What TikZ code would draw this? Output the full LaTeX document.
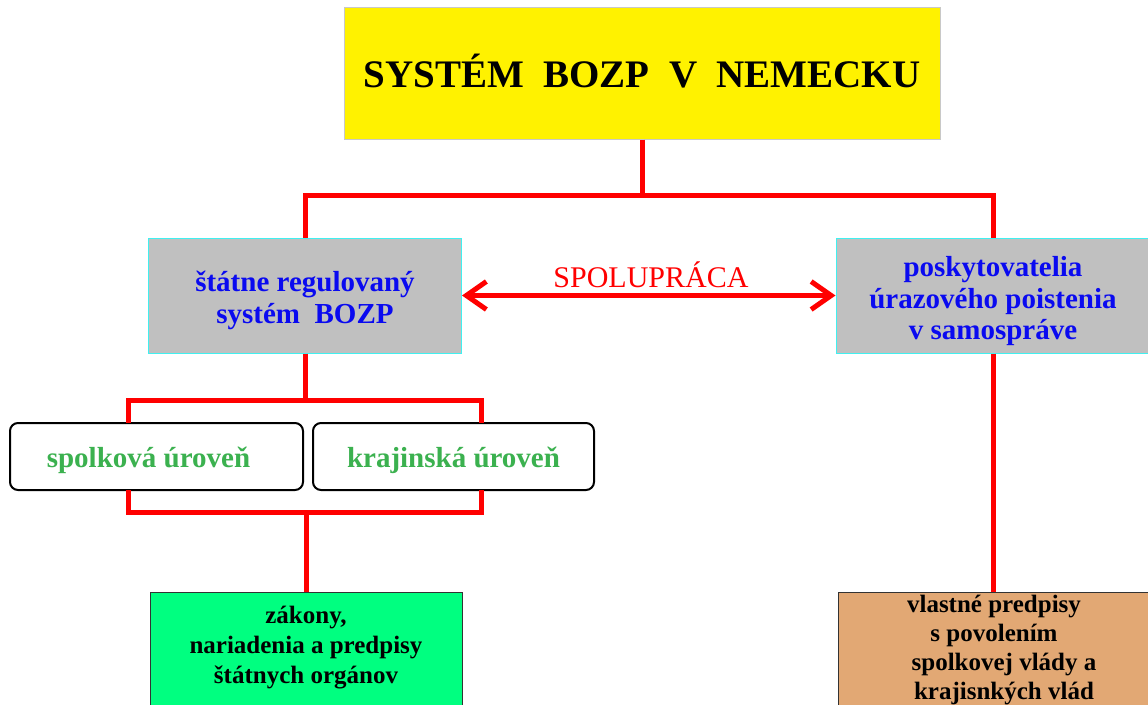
\documentclass[tikz,border=0pt]{standalone}
\usepackage{fontspec}
\setmainfont{Liberation Serif}
\usetikzlibrary{arrows.meta}
\definecolor{titleyellow}{HTML}{FFF200}
\definecolor{titleedge}{HTML}{C8C8C8}
\definecolor{boxgray}{HTML}{C0C0C0}
\definecolor{linered}{HTML}{FF0000}
\definecolor{txtblue}{HTML}{0A0AF0}
\definecolor{txtgreen}{HTML}{3BB14F}
\definecolor{lawgreen}{HTML}{00FF80}
\definecolor{peach}{HTML}{E2A874}
\definecolor{edgecyan}{HTML}{40F0F0}
\begin{document}
\begin{tikzpicture}[x=1pt,y=-1pt,
  conn/.style={draw=linered,line width=5pt},
  graybox/.style={draw=edgecyan,line width=1pt,fill=boxgray,text=txtblue,align=center,
    inner sep=0pt,font=\fontsize{29}{31.5}\selectfont\bfseries},
  levelbox/.style={draw=black,line width=2pt,fill=white,rounded corners=8pt,text=txtgreen,
    inner sep=0pt,minimum height=67pt,text height=27pt,text depth=6pt,
    font=\fontsize{29}{31}\selectfont\bfseries},
  bottombox/.style={draw=black!80,line width=1pt,align=center,inner sep=0pt,
    minimum width=312pt,minimum height=114pt,font=\fontsize{25}{30}\selectfont\bfseries},
  barb/.tip={Straight Barb[length=20pt,width=28pt]}
]
\useasboundingbox (0,0) rectangle (1148,704);
\fill[white] (0,0) rectangle (1148,704);

% title
\node[draw=titleedge,line width=1pt,fill=titleyellow,minimum width=596pt,minimum height=132pt,
  inner sep=0pt,font=\fontsize{39}{40}\selectfont\bfseries] (title) at (642,73)
  {SYSTÉM\ \ BOZP\ \ V\ \ NEMECKU\rule[-4pt]{0pt}{1pt}};

% second row
\node[graybox,minimum width=313pt,minimum height=115pt] (stat) at (305,295.5)
  {štátne regulovaný\\systém\ \ BOZP\\[-35.5pt]\mbox{}};
\node[graybox,minimum width=314pt,minimum height=115pt] (insur) at (993,295.5)
  {poskytovatelia\\ úrazového poistenia\\v samospráve\\[-36.5pt]\mbox{}};

% levels
\node[levelbox,minimum width=293pt] (fed) at (156.5,456.5) {spolková úroveň\hspace*{16pt}};
\node[levelbox,minimum width=281pt] (land) at (453.5,456.5) {krajinská úroveň};

% bottom boxes
\node[bottombox,fill=lawgreen] (law) at (306,649)
  {zákony,\\nariadenia a predpisy\\štátnych orgánov\\[-22pt]\mbox{}};
\node[bottombox,fill=peach,font=\fontsize{25}{29}\selectfont\bfseries] (own) at (994,649)
  {vlastné predpisy\\s povolením\\\hspace*{20pt}spolkovej vlády a\\\hspace*{20pt}krajisnkých vlád\\[-25pt]\mbox{}};

% connectors
\coordinate (tj) at (title.south |- 0,195);
\draw[conn] (title.south) -- (tj);
\draw[conn] (stat.north) |- (tj) -| (insur.north);

\coordinate (sj) at (stat.south |- 0,400);
\coordinate (fl) at (128,423);
\coordinate (fr) at (481,423);
\draw[conn] (stat.south) -- (sj);
\draw[conn] (fl) |- (sj) -| (fr);

\coordinate (bl) at (128,490);
\coordinate (br) at (481,490);
\coordinate (lj) at (law.north |- 0,512);
\draw[conn] (bl) |- (lj) -| (br);
\draw[conn] (lj) -- (law.north);

\draw[conn] (insur.south) -- (insur.south |- own.north);

% cooperation arrow
\draw[conn,barb-barb] (stat.east) -- (insur.west);
\node[text=linered,font=\fontsize{30}{30}\selectfont] (coop) at (651,275) {SPOLUPRÁCA};
\end{tikzpicture}
\end{document}
